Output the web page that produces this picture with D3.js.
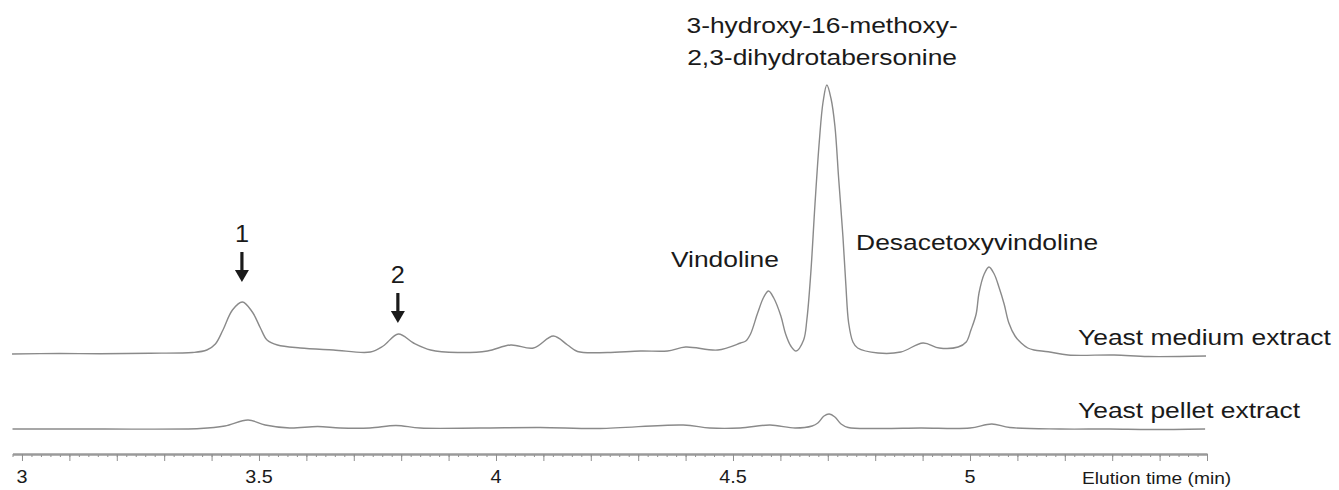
<!DOCTYPE html>
<html>
<head>
<meta charset="utf-8">
<script src="https://cdn.jsdelivr.net/npm/d3@7"></script>
<style>
  body { margin: 0; background: #fff; }
  svg { display: block; }
  text { font-family: "Liberation Sans", Arial, sans-serif; fill: #1a1a1a; }
</style>
</head>
<body>
<svg id="chart" width="1339" height="490"></svg>
<script>
// elution time (min) and detector signal (arbitrary units)
const mediumTime = [2.979, 3.08, 3.165, 3.27, 3.36, 3.39, 3.408, 3.424, 3.444, 3.465, 3.486, 3.503, 3.517,
  3.539, 3.587, 3.657, 3.735, 3.762, 3.794, 3.826, 3.862, 3.919, 3.982, 4.031, 4.079, 4.121, 4.151,
  4.172, 4.235, 4.305, 4.362, 4.400, 4.468, 4.516, 4.527, 4.537, 4.552, 4.565, 4.575, 4.586, 4.601,
  4.611, 4.622, 4.633, 4.649, 4.656, 4.664, 4.673, 4.682, 4.690, 4.698, 4.707, 4.715, 4.723, 4.732,
  4.738, 4.744, 4.753, 4.763, 4.806, 4.854, 4.901, 4.935, 4.975, 4.992, 5.002, 5.013, 5.019, 5.030,
  5.040, 5.051, 5.061, 5.072, 5.082, 5.095, 5.108, 5.122, 5.135, 5.165, 5.207, 5.304, 5.376, 5.498];
const mediumSignal = [0, 0.5, 0.3, 0.8, 1.5, 4, 10, 24, 44, 52, 42, 26, 14,
  9, 6, 4, 2, 8, 20, 11, 4, 1.5, 3, 9, 6, 18, 9,
  2.5, 1.5, 3, 3, 7, 4, 11, 13, 20, 41, 57, 63, 56, 38,
  20, 8, 3, 14, 35, 80, 150, 212, 252, 269, 255, 228, 175, 117,
  70, 31, 12, 6, 1, 2, 11, 6, 7, 12, 24, 40, 61, 80,
  87, 80, 67, 50, 31, 18, 11, 6, 4, 2.3, -1, -1, -2.5, -2];

const pelletTime = [2.98, 3.165, 3.376, 3.428, 3.477, 3.513, 3.565, 3.624, 3.671, 3.734, 3.789, 3.84,
  3.966, 4.093, 4.219, 4.395, 4.451, 4.515, 4.578, 4.631, 4.667, 4.679, 4.692, 4.703, 4.715, 4.728,
  4.743, 4.81, 4.895, 5.0, 5.046, 5.084, 5.19, 5.295, 5.38, 5.496];
const pelletSignal = [0, 0, 0.5, 3, 9, 4, 1, 2.5, 1, 1, 3.5, 1,
  1, 1.5, 0.5, 4, 1, 1, 4, 1, 3, 6, 13, 15, 12, 5,
  1.5, 0.5, 1, 1, 5, 1.5, 0, 0, -0.5, 0];

const tickLabels = [3, 3.5, 4, 4.5, 5];
const traceNames = ["Yeast medium extract", "Yeast pellet extract"];
const peakNames = ["Vindoline", "Desacetoxyvindoline"];
const titleLines = ["3-hydroxy-16-methoxy-", "2,3-dihydrotabersonine"];
const arrowLabels = ["1", "2"];
const axisTitle = "Elution time (min)";

const svg = d3.select("#chart");

const x = d3.scaleLinear().domain([2.98, 5.5]).range([12.5, 1207]);
const y = d3.scaleLinear().domain([0, 270]).range([354, 84]);

const line = d3.line()
  .x(d => x(d[0]))
  .y(d => y(d[1]))
  .curve(d3.curveCatmullRom.alpha(0.5));

function label(g, px, py, str, size, sx, anchor) {
  g.append("text")
    .attr("transform", `translate(${px},${py}) scale(${sx},1)`)
    .attr("font-size", size)
    .attr("text-anchor", anchor)
    .text(str);
}

// traces
const medium = svg.append("g");
medium.append("path")
  .datum(mediumTime.map((t, i) => [t, mediumSignal[i]]))
  .attr("d", line)
  .attr("fill", "none")
  .attr("stroke", "#8a8a8a")
  .attr("stroke-width", 1.4);

const pellet = svg.append("g").attr("transform", "translate(0,75)");
pellet.append("path")
  .datum(pelletTime.map((t, i) => [t, pelletSignal[i]]))
  .attr("d", line)
  .attr("fill", "none")
  .attr("stroke", "#8a8a8a")
  .attr("stroke-width", 1.4);

label(medium, x(5.228), y(9), traceNames[0], 22, 1.2, "start");
label(pellet, x(5.228), y(11), traceNames[1], 22, 1.2, "start");

// compound labels
label(svg, x(4.688), y(321), titleLines[0], 22, 1.2, "middle");
label(svg, x(4.688), y(289), titleLines[1], 22, 1.2, "middle");
label(svg, x(4.483), y(87), peakNames[0], 22, 1.2, "middle");
label(svg, x(5.015), y(104), peakNames[1], 22, 1.2, "middle");

// numbered arrows
const arrows = [
  { t: 3.464, text: 112, top: 102, tip: 72 },
  { t: 3.793, text: 71, top: 61, tip: 31 }
];
arrows.forEach((a, i) => {
  const ax = x(a.t);
  label(svg, ax, y(a.text), arrowLabels[i], 23, 1.1, "middle");
  svg.append("line")
    .attr("x1", ax).attr("x2", ax)
    .attr("y1", y(a.top)).attr("y2", y(a.tip) - 8)
    .attr("stroke", "#1a1a1a")
    .attr("stroke-width", 3.2);
  svg.append("path")
    .attr("d", `M${ax - 7},${y(a.tip) - 12} L${ax + 7},${y(a.tip) - 12} L${ax},${y(a.tip)} Z`)
    .attr("fill", "#1a1a1a");
});

// time axis
const axisY = 454;
const minorTicks = d3.range(149, 276).map(i => i / 50);
const midTicks = d3.range(30, 56).map(i => i / 10);

const axisG = svg.append("g").attr("transform", `translate(0,${axisY})`);
axisG.append("g")
  .call(d3.axisBottom(x).tickValues(minorTicks).tickSize(3).tickFormat("").tickSizeOuter(0));
axisG.append("g")
  .call(d3.axisBottom(x).tickValues(midTicks).tickSize(7).tickFormat("").tickSizeOuter(0));
axisG.selectAll(".domain").attr("stroke", "#9a9a9a").attr("stroke-width", 1.8);
axisG.selectAll(".tick line").attr("stroke", "#8f8f8f").attr("stroke-width", 1);

tickLabels.forEach(t => {
  label(axisG, x(t), 29, String(t), 18, 1.1, "middle");
});
label(axisG, 1082, 30, axisTitle, 16, 1.2, "start");
</script>
</body>
</html>
